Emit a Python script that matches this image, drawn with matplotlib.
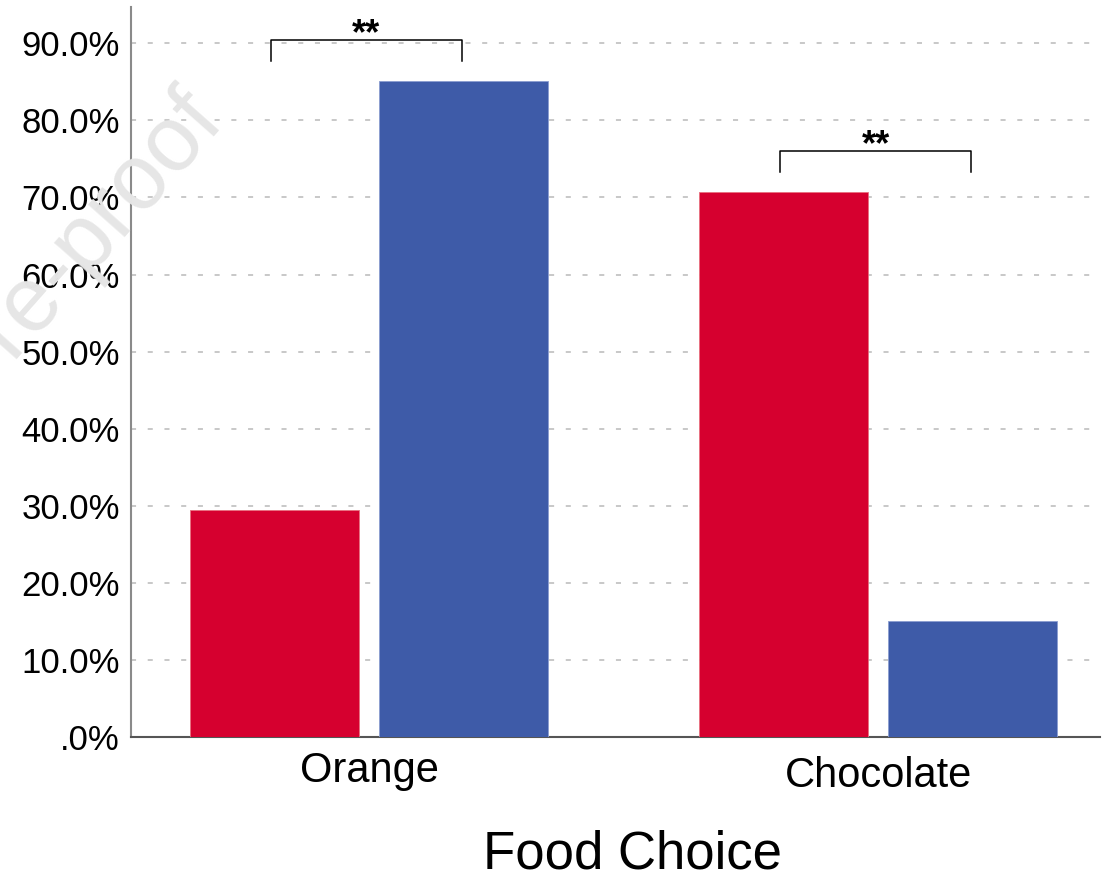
import matplotlib
matplotlib.use("Agg")
from matplotlib import pyplot as plt
from matplotlib.ticker import FuncFormatter
from matplotlib.transforms import ScaledTranslation

# percentage choosing each food, two groups per food
foods = ["Orange", "Chocolate"]
group_red = [29.4, 70.7]
group_blue = [85.1, 15.0]
# significance markers between the two bars of each food
sig_labels = ["**", "**"]
sig_heights = [90.4, 76.0]

plt.rcParams['font.family'] = ['Liberation Sans', 'DejaVu Sans']

fig = plt.figure(figsize=(11.16, 8.81), dpi=100)
ax = fig.add_axes([0.1174, 0.1635, 0.8683, 0.8285])

# watermark behind the plot
fig.text(0.2025, 0.8605, "Journal Pre-proof", fontsize=66, color="#e6e6e6",
         rotation=48.5, rotation_mode="anchor", ha="right", va="baseline", zorder=0)

width = 0.332
offset = 0.1855
x = list(range(len(foods)))
x_red = [i - offset for i in x]
x_blue = [i + offset for i in x]
ax.bar(x_red, group_red, width=width, color="#d6002f", edgecolor="#e8707f",
       linewidth=0.6, zorder=3)
ax.bar(x_blue, group_blue, width=width, color="#3e5ba8", edgecolor="#8a9dd0",
       linewidth=0.6, zorder=3)

# brackets with stars
for i in range(len(foods)):
    h = sig_heights[i]
    x0 = x_red[i] - 0.007
    x1 = x_blue[i] - 0.003
    ax.plot([x0, x0, x1, x1], [h - 2.7, h, h, h - 2.7], color="black",
            linewidth=1.1, zorder=4, solid_joinstyle="round")
    ax.text((x0 + x1) / 2, h - 0.5, sig_labels[i], ha="center", va="baseline",
            fontsize=26, fontweight="bold", zorder=4)

ax.set_xlim(-0.467, 1.435)
ax.set_ylim(0, 94.7)
ax.set_yticks(range(0, 100, 10))
ax.yaxis.set_major_formatter(FuncFormatter(lambda v, p: ".0%" if v == 0 else "%.1f%%" % v))
ax.set_xticks(x)
ax.set_xticklabels(foods)
ax.tick_params(axis="both", length=0, colors="black")
ax.tick_params(axis="y", labelsize=25, pad=8)
ax.tick_params(axis="x", labelsize=30, pad=10)
# second food label sits a little lower
lbl = ax.get_xticklabels()[1]
lbl.set_transform(lbl.get_transform() + ScaledTranslation(0, -4 / 72, fig.dpi_scale_trans))

# dashed grid
for v in range(10, 100, 10):
    ax.axhline(v, color="#c8c8c8", linestyle=(0, (2.6, 6.0)), linewidth=1.4, zorder=1)

ax.spines["top"].set_visible(False)
ax.spines["right"].set_visible(False)
ax.spines["left"].set_color("#8a8a8a")
ax.spines["left"].set_linewidth(1.5)
ax.spines["bottom"].set_color("#555555")
ax.spines["bottom"].set_linewidth(1.5)
ax.patch.set_alpha(0)

ax.set_xlabel("Food Choice", fontsize=38)
ax.xaxis.set_label_coords(0.517, -0.1808)
ax.xaxis.label.set_va("baseline")

plt.savefig("out.png", dpi=100)
